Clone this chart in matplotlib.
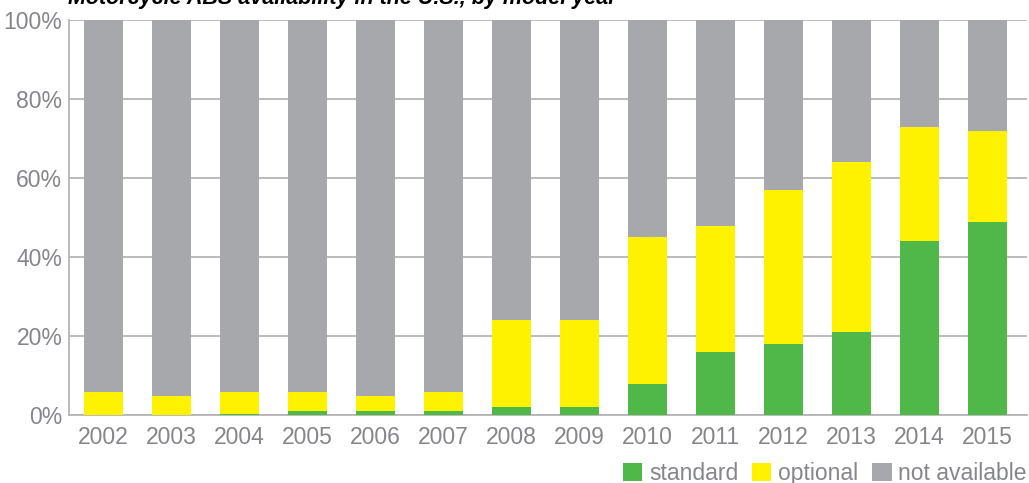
import matplotlib
matplotlib.use("Agg")
import matplotlib.pyplot as plt
import numpy as np

years = ["2002", "2003", "2004", "2005", "2006", "2007", "2008", "2009",
         "2010", "2011", "2012", "2013", "2014", "2015"]
standard = [0, 0, 0.3, 1, 1, 1, 2, 2, 8, 16, 18, 21, 44, 49]
optional = [6, 5, 5.7, 5, 4, 5, 22, 22, 37, 32, 39, 43, 29, 23]
not_available = [100 - s - o for s, o in zip(standard, optional)]

c_std = "#50b848"
c_opt = "#fff200"
c_na = "#a7a8ab"
txt = "#85868a"
font = ["Liberation Sans Narrow", "Liberation Sans", "DejaVu Sans"]

plt.rcParams["font.family"] = font

W, H = 1029, 483
fig = plt.figure(figsize=(W / 100, H / 100), dpi=100)
ax = fig.add_axes([69.3 / W, 67.7 / H, (1027 - 69.3) / W, (415.3 - 20) / H])

x = np.arange(len(years))
bw = 0.574
b1 = ax.bar(x, standard, bw, color=c_std, label="standard", zorder=3)
b2 = ax.bar(x, optional, bw, bottom=standard, color=c_opt,
            label="optional", zorder=3)
bottom2 = [s + o for s, o in zip(standard, optional)]
b3 = ax.bar(x, not_available, bw, bottom=bottom2, color=c_na,
            label="not available", zorder=3)

ax.set_xlim(-0.5, -0.5 + (1027 - 69.3) / 68)
ax.set_ylim(0, 100)
ax.set_yticks(range(0, 101, 20))
ax.set_yticklabels(["{}%".format(v) for v in range(0, 101, 20)])
ax.set_xticks(x)
ax.set_xticklabels(years)
ax.tick_params(axis="both", length=0, labelsize=16.5, labelcolor=txt)
ax.tick_params(axis="y", pad=5)
ax.tick_params(axis="x", pad=8)
ax.yaxis.grid(True, color="#b5b5b8", linewidth=1.3, zorder=0)
ax.set_axisbelow(True)
for s in ["top", "right"]:
    ax.spines[s].set_visible(False)
for s in ["left", "bottom"]:
    ax.spines[s].set_color("#b5b5b8")
    ax.spines[s].set_linewidth(1.3)

leg = fig.legend(handles=[b1, b2, b3], loc="lower right",
                 bbox_to_anchor=(1027 / W, -2 / H), ncol=3, frameon=False,
                 fontsize=16.5, labelcolor=txt, handlelength=0.85,
                 handleheight=0.85, handletextpad=0.3, columnspacing=0.6,
                 borderpad=0, borderaxespad=0)

fig.text(68 / W, 1 - 4 / H, "Motorcycle ABS availability in the U.S., by model year",
         fontsize=15.5, fontweight="bold", fontstyle="italic", color="black",
         va="baseline", ha="left")

fig.savefig("out.png", dpi=100)
